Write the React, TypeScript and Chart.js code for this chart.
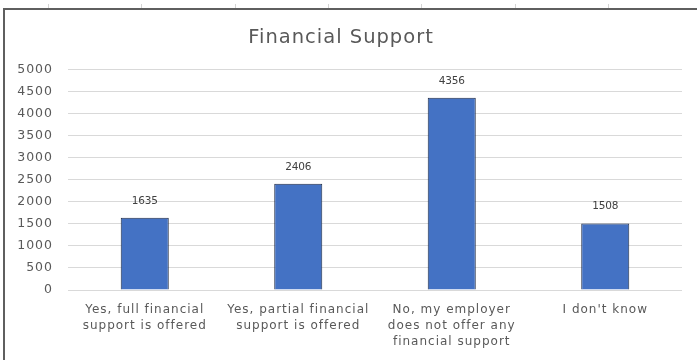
import React, { useEffect, useRef } from "react";
import { Chart, registerables } from "chart.js";

Chart.register(...registerables);

const categories: string[][] = [
  ["Yes, full financial", "support is offered"],
  ["Yes, partial financial", "support is offered"],
  ["No, my employer", "does not offer any", "financial support"],
  ["I don't know"],
];
const values: number[] = [1635, 2406, 4356, 1508];
const yTicks: number[] = [0, 500, 1000, 1500, 2000, 2500, 3000, 3500, 4000, 4500, 5000];
const title = "Financial Support";

const FONT = "'DejaVu Sans', sans-serif";

const framePlugin = {
  id: "frame",
  beforeDraw(chart: any) {
    const ctx = chart.ctx;
    ctx.save();
    ctx.fillStyle = "#ffffff";
    ctx.fillRect(0, 0, chart.width, chart.height);
    ctx.strokeStyle = "#d4d4d4";
    ctx.lineWidth = 1;
    for (let x = 48; x < chart.width; x += 93.3) {
      ctx.beginPath();
      ctx.moveTo(Math.round(x) + 0.5, 4);
      ctx.lineTo(Math.round(x) + 0.5, 8);
      ctx.stroke();
    }
    ctx.strokeStyle = "#5f5f5f";
    ctx.lineWidth = 2;
    ctx.beginPath();
    ctx.moveTo(4, chart.height);
    ctx.lineTo(4, 9);
    ctx.lineTo(chart.width, 9);
    ctx.stroke();
    ctx.restore();
    (ctx as any).letterSpacing = "1px";
  },
};

const labelPlugin = {
  id: "barLabels",
  afterDatasetsDraw(chart: any) {
    const ctx = chart.ctx;
    const meta = chart.getDatasetMeta(0);
    ctx.save();
    (ctx as any).letterSpacing = "-0.2px";
    ctx.font = `10.5px ${FONT}`;
    ctx.fillStyle = "#404040";
    ctx.textAlign = "center";
    ctx.textBaseline = "middle";
    meta.data.forEach((bar: any, i: number) => {
      ctx.fillText(String(values[i]), bar.x, bar.y - 17);
    });
    ctx.restore();
  },
  afterDraw(chart: any) {
    (chart.ctx as any).letterSpacing = "0px";
  },
};

export default function App() {
  const ref = useRef<HTMLCanvasElement | null>(null);
  useEffect(() => {
    if (!ref.current) return;
    const chart = new Chart(ref.current, {
      type: "bar",
      data: {
        labels: categories,
        datasets: [
          {
            data: values,
            backgroundColor: "#4472C4",
            borderColor: "#1f2b45",
            borderWidth: 1,
            barPercentage: 0.313,
            categoryPercentage: 1,
          },
        ],
      },
      options: {
        animation: false,
        responsive: false,
        maintainAspectRatio: false,
        layout: { padding: { left: 0, right: 15, top: 2, bottom: 0 } },
        plugins: {
          legend: { display: false },
          tooltip: { enabled: false },
          title: {
            display: true,
            text: title,
            color: "#595959",
            font: { family: FONT, size: 19.5, weight: "normal" },
            padding: { top: 24, bottom: 20 },
          },
        },
        scales: {
          y: {
            min: 0,
            max: 5000,
            afterBuildTicks: (scale: any) => {
              scale.ticks = yTicks.map((v) => ({ value: v }));
            },
            afterFit: (scale: any) => {
              scale.width = 68;
            },
            ticks: {
              color: "#595959",
              font: { family: FONT, size: 12.5 },
              padding: 15,
              callback: (v: any) => String(v),
            },
            grid: { color: "#d9d9d9", drawTicks: false },
            border: { display: false },
          },
          x: {
            afterFit: (scale: any) => {
              scale.height = 70;
            },
            ticks: {
              color: "#595959",
              font: { family: FONT, size: 12, lineHeight: 16 / 12 },
              padding: 4,
              maxRotation: 0,
              autoSkip: false,
            },
            grid: { display: false },
            border: { display: false },
          },
        },
      },
      plugins: [framePlugin, labelPlugin],
    });
    return () => chart.destroy();
  }, []);
  return (
    <div style={{ position: "fixed", left: 0, top: 0, width: 697, height: 360, background: "#fff" }}>
      <canvas ref={ref} width={697} height={360} style={{ display: "block", width: 697, height: 360 }} />
    </div>
  );
}
